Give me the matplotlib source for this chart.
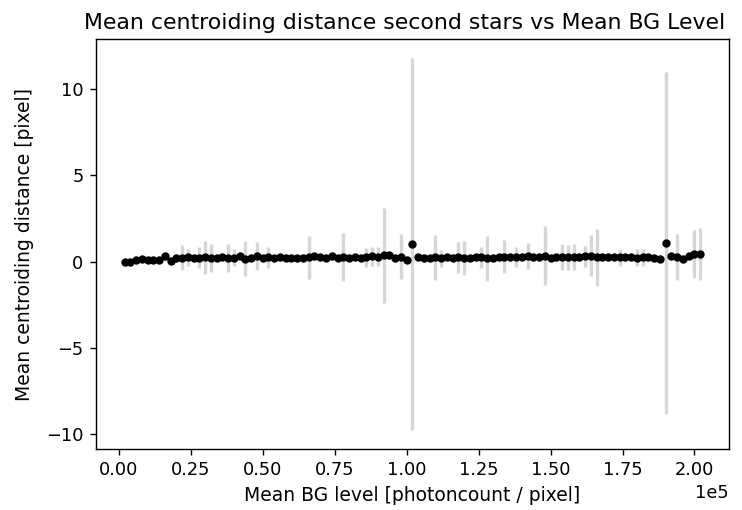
import numpy as np
import matplotlib
matplotlib.use("Agg")
import matplotlib.pyplot as plt

# mean background level per run [photoncount / pixel]
bg_level = [2000 * (k + 1) for k in range(101)]

# mean centroiding distance of the second stars [pixel]
mean_dist = [
    -0.05, -0.03, 0.10, 0.14, 0.10, 0.10, 0.12, 0.30, 0.05, 0.22,
    0.22, 0.24, 0.20, 0.22, 0.24, 0.22, 0.22, 0.24, 0.20, 0.22,
    0.30, 0.18, 0.22, 0.34, 0.20, 0.24, 0.20, 0.24, 0.22, 0.22,
    0.20, 0.22, 0.24, 0.30, 0.26, 0.22, 0.30, 0.22, 0.28, 0.22,
    0.24, 0.22, 0.26, 0.30, 0.28, 0.36, 0.36, 0.20, 0.28, 0.12,
    1.02, 0.24, 0.20, 0.22, 0.26, 0.20, 0.24, 0.22, 0.26, 0.20,
    0.22, 0.26, 0.24, 0.20, 0.22, 0.26, 0.28, 0.24, 0.26, 0.28,
    0.30, 0.26, 0.28, 0.34, 0.22, 0.26, 0.28, 0.24, 0.28, 0.26,
    0.30, 0.34, 0.24, 0.24, 0.26, 0.28, 0.26, 0.24, 0.28, 0.22,
    0.26, 0.24, 0.20, 0.18, 1.09, 0.30, 0.26, 0.16, 0.34, 0.44,
    0.45,
]

# standard deviation of the centroiding distance [pixel]
std_dist = [0.2] * 101
for k, s in {10: 0.72, 11: 0.5, 13: 0.6, 14: 0.95, 15: 0.8, 18: 0.8,
             19: 0.5, 21: 1.0, 23: 0.8, 25: 0.6, 32: 1.25, 38: 1.4,
             42: 0.55, 43: 0.55, 44: 0.55, 45: 2.75, 48: 1.3, 50: 10.79,
             54: 1.3, 55: 0.5, 58: 0.9, 59: 1.0, 62: 0.6, 63: 1.3,
             66: 0.95, 68: 0.6, 70: 0.75, 73: 1.7, 76: 0.75, 77: 0.75,
             78: 0.75, 80: 0.6, 81: 1.2, 82: 1.65, 86: 0.5, 89: 0.5,
             90: 0.5, 94: 9.9, 96: 1.35, 99: 1.4, 100: 1.5}.items():
    std_dist[k] = s

fig = plt.figure(figsize=(742 / 125, 510 / 125), dpi=125)
ax = fig.add_axes([0.129, 0.1196, 0.8535, 0.8039])
ax.errorbar(bg_level, mean_dist, yerr=std_dist, fmt='o', color='black',
            ms=3.8, ecolor='#d6d6d6', elinewidth=1.9)
ax.ticklabel_format(axis='x', style='sci', scilimits=(0, 0))
ax.tick_params(labelsize=10.2)
ax.xaxis.get_offset_text().set_fontsize(10.2)
ax.set_title("Mean centroiding distance second stars vs Mean BG Level",
             fontsize=12.7, x=0.488)
ax.set_xlabel("Mean BG level [photoncount / pixel]", fontsize=10.8)
ax.set_ylabel("Mean centroiding distance [pixel]", fontsize=10.8, labelpad=7)
fig.savefig("out.png", dpi=125)
